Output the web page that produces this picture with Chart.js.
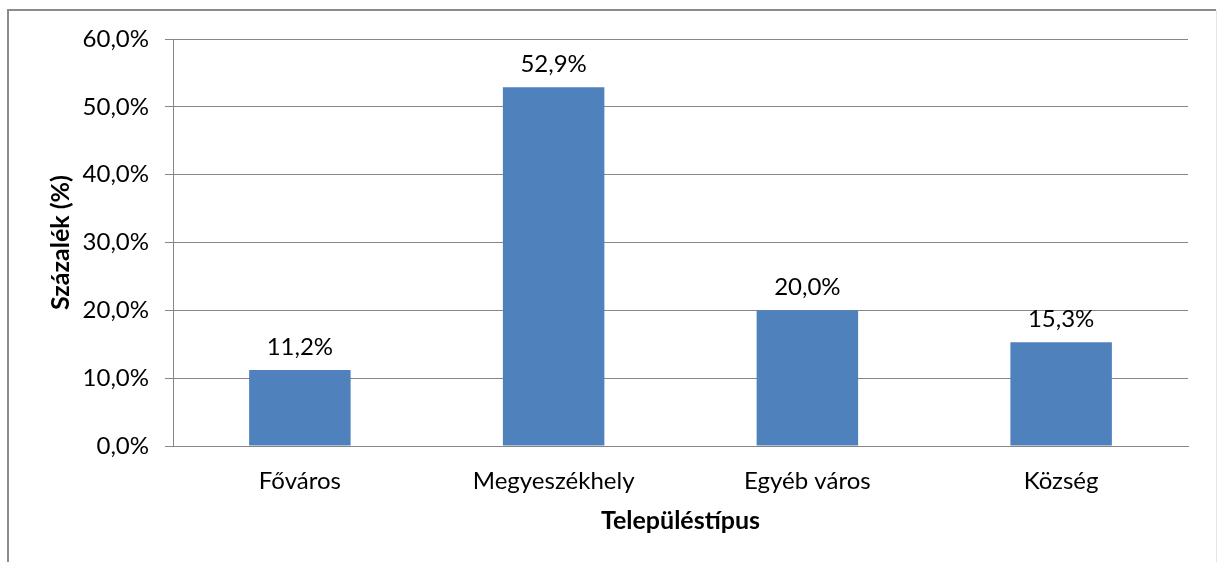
<!DOCTYPE html>
<html><head><meta charset="utf-8">
<script src="https://cdn.jsdelivr.net/npm/chart.js@4.4.1/dist/chart.umd.min.js"></script>
<style>html,body{margin:0;padding:0;background:#fff;}#wrap{width:1217px;height:562px;position:relative;}</style>
</head><body><div id="wrap"><canvas id="c" width="1217" height="562"></canvas></div>
<script>
const categories = ['Főváros', 'Megyeszékhely', 'Egyéb város', 'Község'];
const values = [11.2, 52.9, 20.0, 15.3];
const yTicks = [0, 10, 20, 30, 40, 50, 60];
const yTitle = 'Százalék (%)';
const xTitle = 'Településtípus';

const FONT = 'Lato, "Liberation Sans", sans-serif';
const fmt = v => v.toFixed(1).replace('.', ',') + '%';

const frame = {
  id: 'frame',
  beforeDraw(chart) {
    const c = chart.ctx;
    c.save();
    c.fillStyle = '#fff';
    c.fillRect(0, 0, chart.width, chart.height);
    c.strokeStyle = '#8c8c8c';
    c.lineWidth = 2;
    c.beginPath();
    c.moveTo(8, 562); c.lineTo(8, 10); c.lineTo(1216, 10);
    c.stroke();
    c.strokeStyle = '#e6e6e6';
    c.lineWidth = 1;
    c.beginPath(); c.moveTo(1216.5, 10); c.lineTo(1216.5, 562); c.stroke();
    c.restore();
  }
};
const labels = {
  id: 'labels',
  afterDatasetsDraw(chart) {
    const c = chart.ctx;
    const meta = chart.getDatasetMeta(0);
    c.save();
    c.font = '24px ' + FONT;
    c.fillStyle = '#000';
    c.textAlign = 'center';
    c.textBaseline = 'middle';
    meta.data.forEach((b, i) => {
      c.fillText(fmt(values[i]), b.x, b.y - 23);
    });
    c.restore();
  }
};

new Chart(document.getElementById('c'), {
  type: 'bar',
  data: { labels: categories, datasets: [{ data: values, backgroundColor: '#4F81BD', borderWidth: 0, barPercentage: 0.4, categoryPercentage: 1 }] },
  options: {
    responsive: false, animation: false,
    layout: { padding: { left: 46, right: 29, top: 39, bottom: 0 } },
    plugins: { legend: { display: false }, tooltip: { enabled: false } },
    scales: {
      x: {
        grid: { display: false, drawTicks: false },
        border: { display: true, color: '#868686', width: 1 },
        ticks: { color: '#000', font: { family: FONT, size: 24 }, padding: 21, maxRotation: 0 },
        title: { display: true, text: xTitle, color: '#000', font: { family: FONT, size: 25, weight: 'bold' }, padding: { top: 0, bottom: 26 } },
        afterFit: s => { s.height = 116; }
      },
      y: {
        min: 0, max: 60,
        afterBuildTicks: s => { s.ticks = yTicks.map(v => ({ value: v })); },
        grid: { color: '#868686', lineWidth: 1, tickLength: 8, drawTicks: true },
        border: { display: true, color: '#868686', width: 1 },
        ticks: { color: '#000', font: { family: FONT, size: 24 }, padding: 16, callback: v => fmt(v) },
        title: { display: true, text: yTitle, color: '#000', font: { family: FONT, size: 25, weight: 'bold' }, padding: { top: 0, bottom: 0 } },
        afterFit: s => { s.width = 127; }
      }
    }
  },
  plugins: [frame, labels]
});
</script></body></html>
